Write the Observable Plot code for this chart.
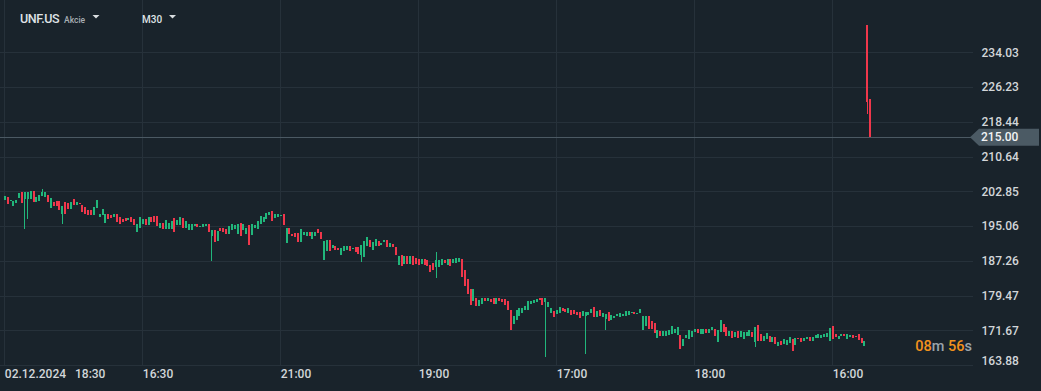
<!DOCTYPE html>
<html><head><meta charset="utf-8">
<script src="https://cdn.jsdelivr.net/npm/d3@7"></script>
<script src="https://cdn.jsdelivr.net/npm/@observablehq/plot@0.6"></script>
<style>
html,body{margin:0;padding:0;background:#19232b;overflow:hidden}
#wrap{position:relative;width:1041px;height:391px}
#wrap svg{display:block}
#wrap svg text{font-weight:500}
</style></head><body><div id="wrap"></div>
<script>
// ---- data ----
const symbol = "UNF.US";
const symbolType = "Akcie";
const timeframe = "M30";
const yTicks = [163.88,171.67,179.47,187.26,195.06,202.85,210.64,218.44,226.23,234.03];
const xTickIndex = [0,48,96,144,192,240,288];
const xTickLabels = ["02.12.2024\u00a0\u00a0\u00a018:30","16:30","21:00","19:00","17:00","18:00","16:00"];
const lastPrice = 215.00;
const timerParts = ["08","m ","56","s"];

const open = [
200.96,201.49,200.65,199.59,200.20,201.26,202.62,201.11,201.11,201.11,
203.00,200.50,200.73,201.87,201.49,202.02,199.07,200.50,200.65,200.65,
197.70,200.35,200.20,198.84,201.11,199.82,200.20,199.75,199.22,198.69,
198.61,197.55,199.07,197.17,197.48,195.66,197.70,197.55,197.10,197.70,
197.17,196.72,196.79,196.42,197.02,196.57,193.69,194.52,195.43,196.72,
195.28,197.10,197.32,197.32,194.67,195.81,194.45,194.30,194.45,196.95,
195.28,195.28,196.95,194.52,194.07,194.14,195.06,195.43,194.83,194.83,
195.06,195.43,192.93,194.14,191.65,194.52,194.52,194.30,193.16,194.14,
194.30,193.31,195.66,194.14,193.16,195.28,193.01,194.67,194.45,195.43,
195.96,196.57,197.48,198.38,196.95,197.17,197.32,197.70,191.27,194.52,
193.31,193.39,193.39,191.42,193.01,192.93,193.69,192.18,192.93,194.30,
193.69,187.48,189.38,192.02,190.13,190.66,190.13,
188.63,189.37,189.59,190.63,189.96,190.26,190.33,188.63,188.04,190.48,
191.96,189.74,190.48,191.73,190.70,191.37,191.96,190.26,191.07,190.33,
186.41,188.63,186.56,188.41,186.64,188.41,187.89,187.74,186.56,187.67,
187.52,186.27,186.78,185.90,185.82,186.27,187.52,186.41,187.67,186.78,
186.78,186.93,187.74,185.08,183.09,180.87,178.28,179.02,177.18,177.55,
179.02,178.14,178.65,179.02,177.55,179.02,178.65,178.65,178.28,176.22,
173.11,174.00,174.96,175.55,176.29,176.29,177.55,177.77,178.06,179.02,
179.02,177.91,176.95,175.55,175.92,175.33,175.48,176.59,176.44,175.48,
176.29,176.22,175.85,175.70,174.81,174.81,175.18,175.55,176.81,174.74,
176.22,174.74,174.20,175.70,174.07,174.52,174.81,174.59,174.81,174.81,
175.18,175.63,175.70,175.33,175.48,171.78,172.74,174.81,173.85,173.33,
170.01,171.41,170.37,170.37,170.67,170.89,171.12,170.52,170.67,168.09,
169.93,169.79,
170.05,171.31,171.90,170.79,170.79,171.90,171.16,171.75,171.90,169.08,
171.31,173.16,172.42,170.42,171.53,170.05,171.53,170.05,169.68,170.42,
170.42,171.31,169.00,172.79,170.94,169.16,169.68,170.42,168.93,170.05,
168.19,169.31,168.56,168.41,168.79,169.82,168.34,169.90,169.90,169.16,
169.68,170.05,169.16,169.90,169.90,169.90,170.05,170.05,169.31,172.64,
170.94,169.68,170.42,170.79,169.68,170.27,170.57,170.42,170.79,169.90,
168.19,240.10,223.50
];
const close = [
201.87,199.97,200.88,200.65,200.88,202.47,200.20,202.62,202.77,203.00,
200.50,201.49,202.02,202.77,202.77,200.35,201.34,199.44,199.59,198.61,
199.59,197.70,198.84,200.35,199.75,200.35,199.97,198.23,197.85,197.55,
197.55,199.22,200.88,197.78,198.84,197.70,196.72,196.79,197.85,195.96,
195.43,196.04,196.11,196.79,195.96,195.28,195.43,197.10,196.57,195.28,
197.17,196.04,195.96,195.06,195.81,194.30,196.34,195.66,196.19,193.69,
196.42,197.10,194.67,196.19,195.43,195.43,195.51,194.83,195.06,195.43,
195.43,193.69,194.14,191.50,193.92,193.92,193.77,193.16,195.06,195.43,
195.28,195.58,192.93,195.58,194.67,190.74,195.43,195.28,196.19,197.32,
197.10,198.08,198.31,196.19,197.78,197.78,197.63,195.28,194.52,193.16,
192.78,192.63,191.42,194.30,193.77,193.77,192.78,193.69,193.69,193.54,
192.18,191.65,192.02,189.53,190.89,189.60,189.60,
190.11,190.63,190.63,189.52,190.11,189.22,188.78,190.85,191.59,192.70,
190.33,191.37,192.18,190.63,191.22,191.96,190.26,191.22,190.26,188.63,
188.26,186.19,188.41,186.56,188.41,186.41,186.56,186.41,187.74,186.27,
186.04,184.71,185.08,187.52,187.52,187.67,186.78,187.67,186.19,187.67,
187.89,187.89,183.61,181.61,179.76,177.33,180.87,177.18,178.51,179.02,
178.28,178.88,177.91,177.55,178.88,178.28,178.06,177.33,176.22,171.78,
174.96,176.29,176.59,176.59,177.03,178.28,178.14,178.43,178.65,178.51,
177.33,178.88,178.06,176.59,174.74,176.29,176.95,176.07,175.70,176.59,
175.18,175.33,175.11,174.44,176.07,175.70,175.70,176.44,174.74,176.07,
174.96,175.48,175.33,173.85,175.11,174.96,175.33,175.55,175.33,175.92,
175.92,175.70,175.33,175.55,176.44,174.96,174.81,172.00,172.00,171.12,
171.78,170.37,171.41,171.41,171.78,172.59,172.00,172.37,167.57,169.79,
170.67,171.63,
171.53,171.90,171.16,171.90,171.90,171.01,171.90,172.42,170.42,171.75,
173.91,171.31,170.42,171.53,169.90,171.31,169.90,171.53,171.31,171.31,
171.68,170.20,172.42,169.31,169.31,170.42,171.09,169.08,170.20,168.56,
168.93,168.41,169.68,169.53,170.05,167.08,169.90,169.68,169.08,169.90,
170.05,169.16,170.05,170.57,170.79,170.57,170.79,171.16,172.12,169.82,
170.05,170.42,170.79,170.42,170.79,170.57,169.90,170.05,169.45,168.79,
169.31,222.80,215.00
];
// wick extremes that reach beyond the body: [candle index, price]
const wickHigh = [[13,203.38],[150,189.15],[300,240.10]];
const wickLow = [[7,194.30],[8,196.57],[20,195.43],[72,187.26],[124,186.93],[150,183.31],[188,165.57],[202,166.31],[209,171.78],[261,167.97],[300,220.20]];

// ---- build ----
const GREEN = "#21b67b", RED = "#f0374b";
const candles = open.map((o, i) => ({i, o, c: close[i], h: Math.max(o, close[i]), l: Math.min(o, close[i])}));
for (const [i, v] of wickHigh) candles[i].h = v;
for (const [i, v] of wickLow) candles[i].l = v;
const col = d => d.c >= d.o ? GREEN : RED;
const yStep = yTicks[1] - yTicks[0];
const yTop = yTicks[yTicks.length - 1] + yStep * 1.5;
const labelFill = "#d2d6d9";

const chart = Plot.plot({
  width: 1041, height: 391,
  marginLeft: 0, marginRight: 68, marginTop: 52.3, marginBottom: 26,
  style: {background: "#19232b", fontFamily: "Roboto, sans-serif", fontSize: "12px", color: labelFill, overflow: "visible"},
  x: {domain: [-1.5, 336.95], axis: null},
  y: {domain: [yTicks[0], yTicks[yTicks.length - 1]], axis: null},
  marks: [
    Plot.ruleY(yTicks, {stroke: "#26313a", strokeWidth: 1, shapeRendering: "crispEdges"}),
    Plot.ruleX(xTickIndex, {y1: yTicks[0], y2: yTop, stroke: "#26313a", strokeWidth: 1, shapeRendering: "crispEdges"}),
    Plot.ruleY([lastPrice], {stroke: "#4b5963", strokeWidth: 1, shapeRendering: "crispEdges"}),
    Plot.ruleX(candles, {x: "i", y1: "l", y2: "h", stroke: col, strokeWidth: 1, shapeRendering: "crispEdges"}),
    Plot.ruleX(candles, {x: "i", y1: "o", y2: "c", stroke: col, strokeWidth: 2, shapeRendering: "crispEdges"}),
    Plot.text(yTicks.slice(1), {y: d => d, frameAnchor: "right", dx: 8, textAnchor: "start", text: d => d.toFixed(2), fill: labelFill, fontSize: 12}),
    Plot.text(yTicks.slice(0, 1), {y: d => d, frameAnchor: "right", dx: 8, dy: -4, textAnchor: "start", text: d => d.toFixed(2), fill: labelFill, fontSize: 12}),
    Plot.text(xTickIndex, {x: d => d, text: (d, k) => xTickLabels[k], frameAnchor: "bottom", dy: 9, textAnchor: "start", lineAnchor: "middle", fill: labelFill, fontSize: 12})
  ]
});
document.getElementById("wrap").appendChild(chart);

// current-price label box on the right axis
const svg = d3.select(chart);
const py = chart.scale("y").apply(lastPrice);
const xr = chart.scale("x").range[1];
const g = svg.append("g").attr("text-anchor", "start");
g.append("path")
  .attr("d", `M${xr - 3},${py} L${xr + 6},${py - 8.5} L${1041 - 2},${py - 8.5} L${1041 - 2},${py + 8.5} L${xr + 6},${py + 8.5} Z`)
  .attr("fill", "#4b5a64");
g.append("text").attr("x", xr + 8).attr("y", py).attr("dy", "0.35em")
  .attr("fill", "#f2f4f5").attr("font-size", 12).attr("font-family", "Roboto, sans-serif")
  .text(lastPrice.toFixed(2));

// countdown timer
const ty = chart.scale("y").apply(yTicks[0]) - 14.5;
const tt = svg.append("text").attr("x", xr - 1).attr("y", ty).attr("text-anchor", "end")
  .attr("font-size", 14.5).attr("font-family", "Roboto, sans-serif");
timerParts.forEach((p, k) => tt.append("tspan").attr("fill", k % 2 ? "#9aa4aa" : "#f2921d").text(p));

// header
const hd = svg.append("g").attr("font-family", "Roboto, sans-serif").attr("text-anchor", "start");
hd.append("text").attr("x", 20).attr("y", 23.3).attr("font-size", 12.5).attr("font-weight", 700)
  .attr("fill", "#dfe2e5").attr("letter-spacing", "-0.4").text(symbol);
hd.append("text").attr("x", 64).attr("y", 23).attr("font-size", 8.5).attr("fill", "#a7aeb3").text(symbolType);
hd.append("path").attr("d", "M92.5,15 L99.5,15 L96,18.6 Z").attr("fill", "#d9dde0");
hd.append("text").attr("x", 142).attr("y", 23.3).attr("font-size", 10).attr("font-weight", 700)
  .attr("fill", "#dfe2e5").text(timeframe);
hd.append("path").attr("d", "M169,15 L176,15 L172.5,18.6 Z").attr("fill", "#d9dde0");
</script>
</body></html>
